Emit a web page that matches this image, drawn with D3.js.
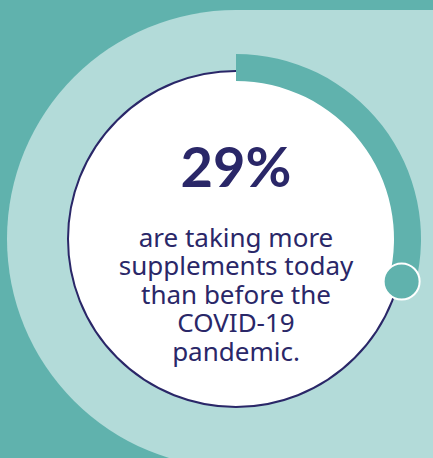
<!DOCTYPE html>
<html><head><meta charset="utf-8">
<script src="https://cdn.jsdelivr.net/npm/d3@7"></script>
<style>html,body{margin:0;padding:0;background:#60b2ad;overflow:hidden}</style>
</head><body><svg id="c" width="433" height="458"></svg>
<script>
const percentValue = [29];
const headline = ["29%"];
const bodyLines = ["are taking more", "supplements today", "than before the", "COVID-19", "pandemic."];

const W = 433, H = 458, cx = 236, cy = 239;
const svg = d3.select("#c");
const teal = "#60b2ad", light = "#b3dbd9", navy = "#2a2768";

svg.append("rect").attr("width", W).attr("height", H).attr("fill", teal);
const g = svg.append("g").attr("transform", `translate(${cx},${cy})`);
g.append("circle").attr("r", 229).attr("fill", light);
g.append("rect").attr("x", 0).attr("y", -229).attr("width", W).attr("height", H).attr("fill", light);

g.append("circle").attr("r", 168).attr("fill", "#fff").attr("stroke", navy).attr("stroke-width", 2);

const angle = d3.scaleLinear().domain([0, 100]).range([0, 2 * Math.PI]);
const arc = d3.arc().innerRadius(158).outerRadius(185).startAngle(0);
g.selectAll("path.prog").data(percentValue).join("path").attr("class", "prog")
  .attr("d", d => arc({endAngle: angle(d)})).attr("fill", teal);

const knobR = 171;
g.selectAll("circle.knob").data(percentValue).join("circle").attr("class", "knob")
  .attr("cx", d => knobR * Math.sin(angle(d)))
  .attr("cy", d => -knobR * Math.cos(angle(d)))
  .attr("r", 18).attr("fill", teal).attr("stroke", "#fff").attr("stroke-width", 2);

g.selectAll("text.big").data(headline).join("text").attr("class", "big")
  .attr("x", 0).attr("y", 187 - cy).attr("text-anchor", "middle")
  .attr("font-family", "Lato, sans-serif").attr("font-weight", 700)
  .attr("font-size", 56).attr("fill", navy).text(d => d);

const body = g.append("text").attr("class", "body").attr("text-anchor", "middle")
  .attr("font-family", "'Noto Sans', sans-serif").attr("font-size", 26).attr("fill", navy);
body.selectAll("tspan").data(bodyLines).join("tspan")
  .attr("x", 0).attr("y", (d, i) => 247 - cy + i * 28.4).text(d => d);
</script></body></html>
